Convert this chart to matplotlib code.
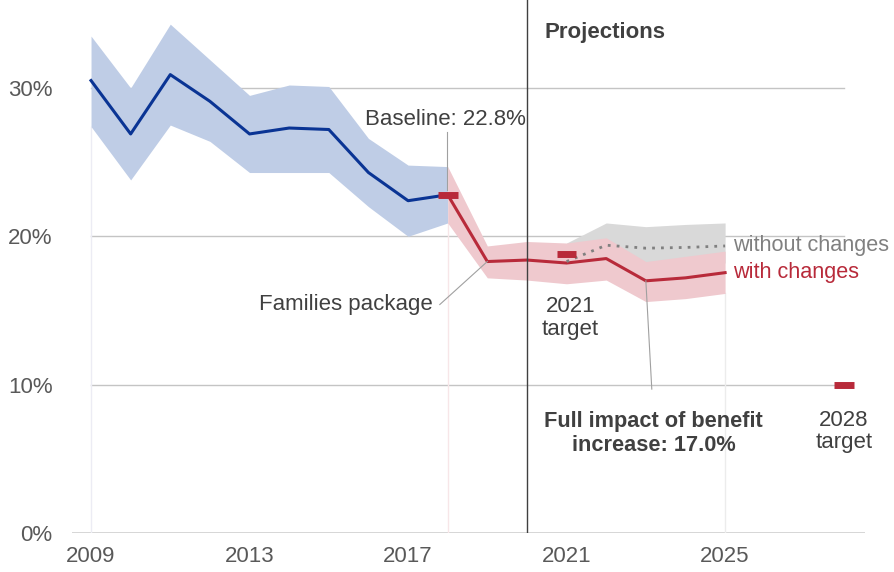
import matplotlib
matplotlib.use("Agg")
import matplotlib.pyplot as plt

plt.rcParams['font.family'] = ['Liberation Sans', 'DejaVu Sans']

# historic series
hist_years = [2009, 2010, 2011, 2012, 2013, 2014, 2015, 2016, 2017, 2018]
hist_rate = [30.5, 26.9, 30.9, 29.1, 26.9, 27.3, 27.2, 24.3, 22.4, 22.8]
hist_upper = [33.5, 30.0, 34.3, 31.9, 29.5, 30.2, 30.1, 26.6, 24.8, 24.7]
hist_lower = [27.4, 23.8, 27.5, 26.4, 24.3, 24.3, 24.3, 22.0, 20.0, 20.9]

# projection with changes
proj_years = [2018, 2019, 2020, 2021, 2022, 2023, 2024, 2025]
with_rate = [22.8, 18.3, 18.4, 18.2, 18.5, 17.0, 17.2, 17.55]
with_upper = [24.7, 19.35, 19.65, 19.55, 19.9, 18.3, 18.65, 19.0]
with_lower = [20.9, 17.2, 17.05, 16.8, 17.05, 15.6, 15.8, 16.15]

# projection without changes
wo_years = [2021, 2022, 2023, 2024, 2025]
wo_rate = [18.3, 19.4, 19.2, 19.25, 19.35]
wo_upper = [19.55, 20.9, 20.65, 20.8, 20.9]
wo_lower = [18.2, 18.3, 18.0, 18.1, 18.2]

# targets
target_years = [2018, 2021, 2028]
target_vals = [22.8, 18.8, 10.0]

yticks = [0, 10, 20, 30]
xticks = [2009, 2013, 2017, 2021, 2025]

blue = '#0a3494'
blue_band = '#bfcde6'
red = '#b82a3a'
red_band = '#efc9ce'
grey_band = '#d9d9d9'
txt = '#404040'

fig = plt.figure(figsize=(8.94, 5.72), dpi=100)
ax = fig.add_axes([72/894, 39/572, 793/894, 533/572])
ax.set_xlim(2008.52, 2028.53)
ax.set_ylim(0, 35.93)

# grid
for y in yticks[1:]:
    ax.plot([2009, 2028], [y, y], color='#c4c4c4', lw=1, zorder=0)
ax.axhline(0, color='#d0d0d0', lw=1.2, zorder=0)

# faint drop lines
ax.plot([2009, 2009], [0, hist_lower[0]], color='#ececf4', lw=1, zorder=0)
ax.plot([2018, 2018], [0, with_lower[0]], color='#f7e6e8', lw=1, zorder=0)
ax.plot([2025, 2025], [0, with_lower[-1]], color='#ececec', lw=1, zorder=0)

ax.fill_between(hist_years, hist_lower, hist_upper, color=blue_band, lw=0, zorder=1)
ax.fill_between(wo_years, wo_lower, wo_upper, color=grey_band, lw=0, zorder=1)
ax.fill_between(proj_years, with_lower, with_upper, color=red_band, lw=0, zorder=2)

ax.plot(hist_years, hist_rate, color=blue, lw=2.2, zorder=4)
ax.plot(proj_years, with_rate, color=red, lw=2.2, zorder=4)
ax.plot(wo_years, wo_rate, color='#808080', lw=2, ls=(0, (1, 2.2)), zorder=4)

# projections divider
ax.axvline(2020, color='#404040', lw=1, zorder=5)

for x, y in zip(target_years, target_vals):
    ax.plot([x - 0.25, x + 0.25], [y, y], color=red, lw=5, solid_capstyle='butt', zorder=6)

fs = 16
ax.text(2020.45, 33.75, 'Projections', fontsize=fs, fontweight='bold', color=txt,
        va='center', ha='left')
ax.text(2017.95, 27.9, 'Baseline: 22.8%', fontsize=fs, color=txt, va='center', ha='center')
ax.plot([2017.98, 2017.98], [27.0, 23.1], color='#a0a0a0', lw=0.8, zorder=5)

ax.text(2017.63, 15.4, 'Families package', fontsize=fs, color=txt, va='center', ha='right')
ax.plot([2017.8, 2019], [15.4, 18.3], color='#a0a0a0', lw=0.8, zorder=5)

ax.text(2021.1, 14.5, '2021\ntarget', fontsize=fs, color=txt, va='center', ha='center',
        linespacing=1.1)
ax.text(2028.0, 6.85, '2028\ntarget', fontsize=fs, color=txt, va='center', ha='center',
        linespacing=1.1)

ax.text(2023.2, 6.7, 'Full impact of benefit\nincrease: 17.0%', fontsize=fs - 0.3,
        fontweight='bold', color=txt, va='center', ha='center', linespacing=1.15)
ax.plot([2023.15, 2023.0], [9.7, 17.0], color='#a0a0a0', lw=0.8, zorder=5)

ax.text(2025.2, 19.35, 'without changes', fontsize=fs - 0.4, color='#808080', va='center', ha='left')
ax.text(2025.2, 17.55, 'with changes', fontsize=fs - 0.4, color=red, va='center', ha='left')

ax.set_yticks(yticks)
ax.set_yticklabels([f'{v}%' for v in yticks])
ax.set_xticks(xticks)
ax.set_xticklabels([str(v) for v in xticks])
ax.tick_params(axis='y', length=0, pad=14, labelsize=fs, labelcolor='#595959')
ax.tick_params(axis='x', length=0, pad=9, labelsize=fs, labelcolor='#595959')
for s in ax.spines.values():
    s.set_visible(False)

fig.savefig('out.png', dpi=100)
